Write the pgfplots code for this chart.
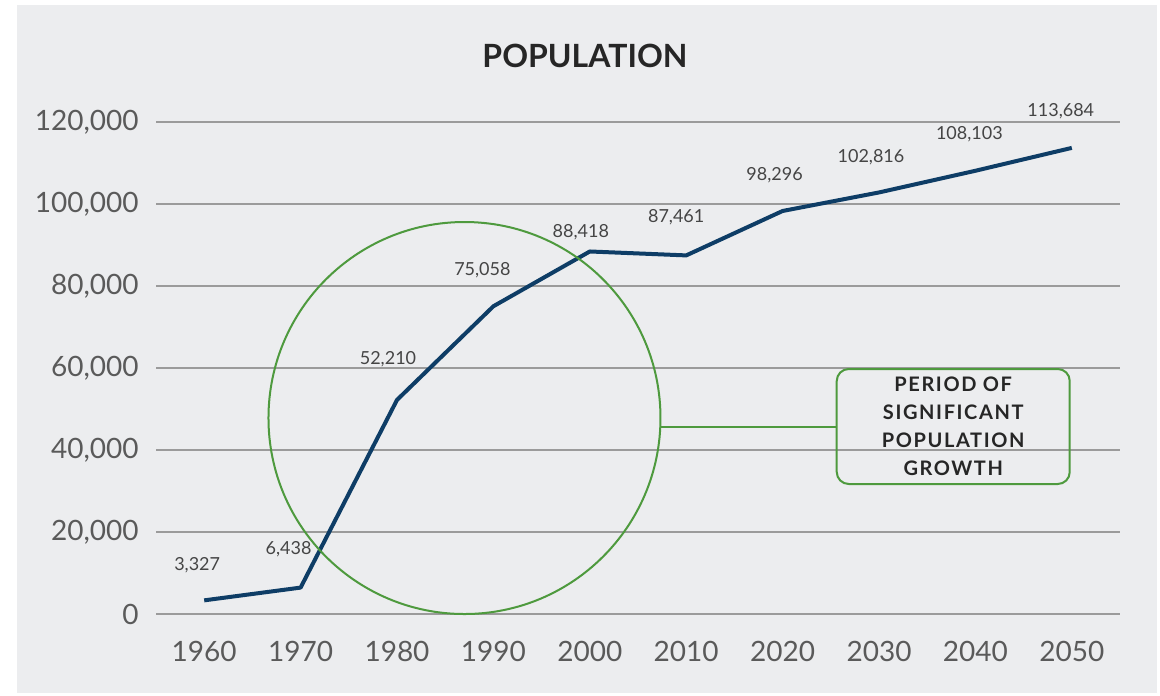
\documentclass[border=0pt]{standalone}
\usepackage{pgfplots}
\pgfplotsset{compat=1.18}
\usepackage{pgfplotstable}
\usepackage{fontspec}
\setmainfont{Lato}
\definecolor{bg}{HTML}{ECEDEF}
\definecolor{navy}{HTML}{0E3D66}
\definecolor{grn}{HTML}{4E9A3E}
\definecolor{gridc}{HTML}{9B9B9B}
\definecolor{tickc}{HTML}{5A5A5A}
\definecolor{lblc}{HTML}{454545}

\pgfplotstableread{
year pop dx dy
1960 3327 -3.5 17.5
1970 6438 -6 19
1980 52210 -4.5 20.5
1990 75058 -5.5 18
2000 88418 -4.5 9.5
2010 87461 -5 19
2020 98296 -4 18
2030 102816 -4 17.75
2040 108103 -3 18.5
2050 113684 -5.5 18.5
}\popdata

\begin{document}
\begin{tikzpicture}
\path (0,0) rectangle (580pt,347.5pt);
\fill[bg] (8.5pt,1pt) rectangle (578.5pt,345pt);
\node[font=\fontsize{16}{19}\selectfont\bfseries, text=black!85] at (292.5pt,319.5pt) {POPULATION};
\begin{axis}[
  at={(78pt,40.5pt)}, anchor=south west,
  scale only axis, width=482pt, height=246pt,
  xmin=1955, xmax=2055, ymin=0, ymax=120000,
  xtick={1960,1970,...,2050},
  ytick={0,20000,...,120000},
  ymajorgrids, grid style={gridc, line width=0.75pt},
  axis line style={draw=none},
  major tick length=0pt, tick style={draw=none},
  clip=false, scaled y ticks=false, scaled x ticks=false,
  /pgf/number format/fixed,
  /pgf/number format/precision=0,
  /pgf/number format/1000 sep={,},
  /pgf/number format/assume math mode=true,
  yticklabel style={anchor=east, inner sep=0pt, xshift=-8.5pt, font=\fontsize{14}{16}\selectfont, text=tickc},
  xticklabel style={anchor=center, inner sep=0pt, yshift=-18.5pt, font=\fontsize{14}{16}\selectfont, text=tickc, /pgf/number format/1000 sep={}},
]
\addplot[navy, line width=2pt, line join=round, mark=none,
  nodes near coords, point meta=explicit,
  visualization depends on={\thisrow{dx}\as\dx},
  visualization depends on={\thisrow{dy}\as\dy},
  every node near coord/.append style={anchor=center, inner sep=0pt, xshift=\dx pt, yshift=\dy pt,
     font=\fontsize{9}{10}\selectfont, text=lblc}]
  table[x=year, y=pop, meta=pop] {\popdata};
\draw[grn, line width=1pt] (axis cs:1987,47800) circle[radius=98pt];
\node[draw=grn, line width=1pt, rounded corners=6pt, minimum width=116.5pt, minimum height=57.5pt,
  align=center, text=black!85, font=\fontsize{10}{14}\selectfont\bfseries\addfontfeature{LetterSpace=8}]
  (box) at (axis cs:2037.7,45730) {PERIOD OF\\SIGNIFICANT\\POPULATION\\GROWTH};
\draw[grn, line width=1pt] (axis cs:2007.3,45730) -- (box.west);
\end{axis}
\end{tikzpicture}
\end{document}
